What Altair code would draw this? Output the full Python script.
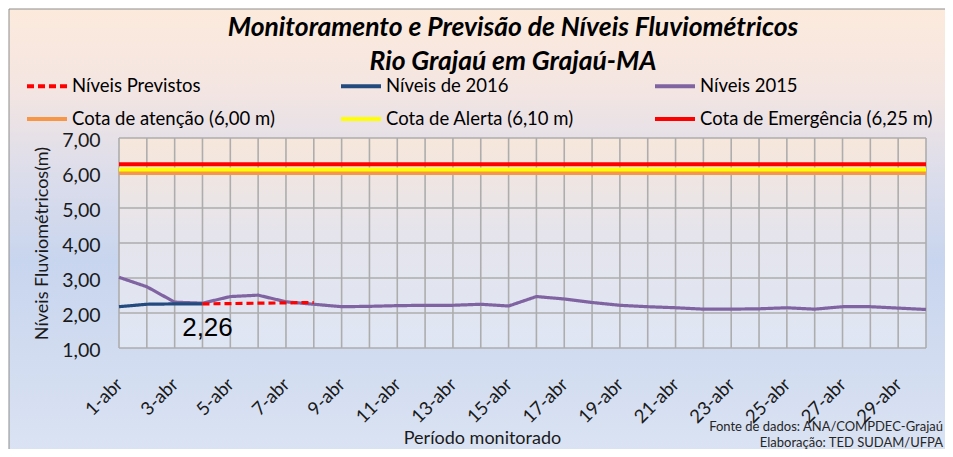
import altair as alt
import pandas as pd

# ---------------- data ----------------
days = ["1-abr", "2-abr", "3-abr", "4-abr", "5-abr", "6-abr", "7-abr", "8-abr", "9-abr", "10-abr",
        "11-abr", "12-abr", "13-abr", "14-abr", "15-abr", "16-abr", "17-abr", "18-abr", "19-abr", "20-abr",
        "21-abr", "22-abr", "23-abr", "24-abr", "25-abr", "26-abr", "27-abr", "28-abr", "29-abr", "30-abr"]
label_days = ["1-abr", "3-abr", "5-abr", "7-abr", "9-abr", "11-abr", "13-abr", "15-abr",
              "17-abr", "19-abr", "21-abr", "23-abr", "25-abr", "27-abr", "29-abr"]

niveis_2015 = [3.02, 2.75, 2.31, 2.28, 2.47, 2.51, 2.32, 2.25, 2.18, 2.19,
               2.21, 2.22, 2.22, 2.25, 2.20, 2.47, 2.40, 2.30, 2.22, 2.18,
               2.15, 2.11, 2.11, 2.12, 2.15, 2.11, 2.18, 2.18, 2.14, 2.10]
dias_2016 = ["1-abr", "2-abr", "3-abr", "4-abr"]
niveis_2016 = [2.18, 2.25, 2.26, 2.26]
dias_previstos = ["4-abr", "5-abr", "6-abr", "7-abr", "8-abr"]
niveis_previstos = [2.26, 2.27, 2.28, 2.29, 2.30]

cotas_nomes = ["Cota de atenção (6,00 m)", "Cota de Alerta (6,10 m)", "Cota de Emergência (6,25 m)"]
cotas_valores = [6.00, 6.10, 6.25]

series = ["Níveis Previstos", "Níveis de 2016", "Níveis 2015"] + cotas_nomes
series_colors = ["#FF0000", "#234A7E", "#8064A2", "#F79646", "#FFFF00", "#FF0000"]
series_dash = [[7, 4], [1, 0], [1, 0], [1, 0], [1, 0], [1, 0]]

y_ticks = [1, 2, 3, 4, 5, 6, 7]

rotulo_dia = ["4-abr"]
rotulo_valor = [2.26]
rotulo_texto = ["2,26"]

title_lines = ["Monitoramento e Previsão de Níveis Fluviométricos", "Rio Grajaú em Grajaú-MA"]
footer_lines = ["Fonte de dados: ANA/COMPDEC-Grajaú", "Elaboração: TED SUDAM/UFPA"]
x_title = "Período monitorado"
y_title = "Níveis Fluviométricos(m)"

# ---------------- frames ----------------
df_2015 = pd.DataFrame({"dia": days, "valor": niveis_2015, "serie": series[2]})
df_2016 = pd.DataFrame({"dia": dias_2016, "valor": niveis_2016, "serie": series[1]})
df_prev = pd.DataFrame({"dia": dias_previstos, "valor": niveis_previstos, "serie": series[0]})
df_cotas = pd.DataFrame({"valor": cotas_valores, "serie": cotas_nomes})
df_days = pd.DataFrame({"dia": days})
df_y = pd.DataFrame({"valor": y_ticks})
df_rot = pd.DataFrame({"dia": rotulo_dia, "valor": rotulo_valor, "txt": rotulo_texto})
one = alt.Data(values=[{}])

W, H = 807, 210
FONT = "Lato"
GRID = "#ADADAD"
TXT = "#1a1a1a"

x_enc = alt.X(
    "dia:O", sort=days,
    scale=alt.Scale(type="point", domain=days, padding=0),
    axis=alt.Axis(values=label_days, labelAngle=315, labelAlign="right", labelBaseline="middle",
                  labelPadding=33, tickSize=0, ticks=False, domain=False, grid=False,
                  labelFont=FONT, labelFontSize=18.5, labelColor=TXT, labelOverlap=False,
                  title=x_title, titleFont=FONT, titleFontSize=18, titleFontWeight="normal",
                  titleColor=TXT, titleX=363, titleY=95, titleAlign="center",
                  titleBaseline="alphabetic", zindex=1),
)
y_enc = alt.Y(
    "valor:Q",
    scale=alt.Scale(domain=[1, 7], nice=False, zero=False),
    axis=alt.Axis(values=y_ticks, labelExpr="replace(format(datum.value, '.2f'), '.', ',')",
                  labelPadding=19, tickSize=0, ticks=False, domain=False, grid=False,
                  labelFont=FONT, labelFontSize=19.5, labelColor=TXT, labelBaseline="middle",
                  labelOffset=2,
                  title=y_title, titleFont=FONT, titleFontSize=18, titleFontWeight="normal",
                  titleColor=TXT, titleAngle=270, titleX=-77, titleY=105,
                  titleAlign="center", titleBaseline="middle", zindex=1),
)
legend_kw = dict(orient="none", legendX=-94, legendY=-74, columns=3, direction="horizontal", title=None,
                 symbolType="stroke", symbolSize=1600, symbolStrokeWidth=4,
                 labelFont=FONT, labelFontSize=18.5, labelColor="#000000",
                 gridAlign="all", columnPadding=28, rowPadding=1, labelOffset=3,
                 padding=0, zindex=1, labelLimit=400)
color_enc = alt.Color("serie:N", scale=alt.Scale(domain=series, range=series_colors),
                      legend=alt.Legend(**legend_kw))
dash_enc = alt.StrokeDash("serie:N", scale=alt.Scale(domain=series, range=series_dash),
                          legend=alt.Legend(**legend_kw))

outer_grad = alt.LinearGradient(
    gradient="linear", x1=0, x2=0, y1=0, y2=1,
    stops=[alt.GradientStop(offset=0, color="#FCEADC"),
           alt.GradientStop(offset=0.18, color="#F3E5E2"),
           alt.GradientStop(offset=0.36, color="#DCDDEB"),
           alt.GradientStop(offset=0.55, color="#C8D5EE"),
           alt.GradientStop(offset=1, color="#DCE4F3")])
plot_grad = alt.LinearGradient(
    gradient="linear", x1=0, x2=0, y1=0, y2=1,
    stops=[alt.GradientStop(offset=0, color="#F7E7DB"),
           alt.GradientStop(offset=0.45, color="#E5E4EC"),
           alt.GradientStop(offset=1, color="#DFE6F4")])

outer_bg = alt.Chart(one).mark_rect(fill=outer_grad, stroke="#8C8C8C", strokeWidth=1).encode(
    x=alt.value(-110), x2=alt.value(840), y=alt.value(-129), y2=alt.value(330))
plot_bg = alt.Chart(one).mark_rect(fill=plot_grad).encode(
    x=alt.value(0), x2=alt.value(W), y=alt.value(0), y2=alt.value(H))

vgrid = alt.Chart(df_days).mark_rule(color=GRID, strokeWidth=1.6).encode(x=x_enc)
hgrid = alt.Chart(df_y).mark_rule(color=GRID, strokeWidth=1.6).encode(y=y_enc)

cotas = alt.Chart(df_cotas).mark_rule(strokeWidth=4).encode(y=y_enc, color=color_enc)

line_kw = dict(strokeWidth=3.2, strokeCap="butt", strokeJoin="round")
l2015 = alt.Chart(df_2015).mark_line(**line_kw).encode(x=x_enc, y=y_enc, color=color_enc, strokeDash=dash_enc)
l2016 = alt.Chart(df_2016).mark_line(**line_kw).encode(x=x_enc, y=y_enc, color=color_enc, strokeDash=dash_enc)
lprev = alt.Chart(df_prev).mark_line(**line_kw).encode(x=x_enc, y=y_enc, color=color_enc, strokeDash=dash_enc)

rotulo = alt.Chart(df_rot).mark_text(font="Liberation Sans", fontSize=26, dx=5, dy=32,
                                     baseline="alphabetic", align="center", color="#000000").encode(
    x=x_enc, y=y_enc, text="txt:N")

title_kw = dict(font=FONT, fontSize=26.5, fontStyle="italic", fontWeight="bold", align="center",
                baseline="middle", color="#000000")
t1 = alt.Chart(one).mark_text(**title_kw).encode(x=alt.value(394), y=alt.value(-110), text=alt.value(title_lines[0]))
t2 = alt.Chart(one).mark_text(**title_kw).encode(x=alt.value(394), y=alt.value(-76), text=alt.value(title_lines[1]))

foot_kw = dict(font=FONT, fontSize=13, align="right", baseline="alphabetic", color="#262626")
f1 = alt.Chart(one).mark_text(**foot_kw).encode(x=alt.value(824), y=alt.value(293), text=alt.value(footer_lines[0]))
f2 = alt.Chart(one).mark_text(**foot_kw).encode(x=alt.value(824), y=alt.value(308.5), text=alt.value(footer_lines[1]))

chart = alt.layer(
    outer_bg, plot_bg, vgrid, hgrid, cotas, l2015, l2016, lprev, rotulo, t1, t2, f1, f2
).properties(
    width=W, height=H,
    autosize=alt.AutoSizeParams(type="none"),
    padding={"left": 111, "top": 130, "right": 19, "bottom": 101},
    background="#FFFFFF",
).configure_view(strokeWidth=0).configure(font=FONT)

chart.save("out.html", embed_options={"renderer": "svg", "actions": False})
